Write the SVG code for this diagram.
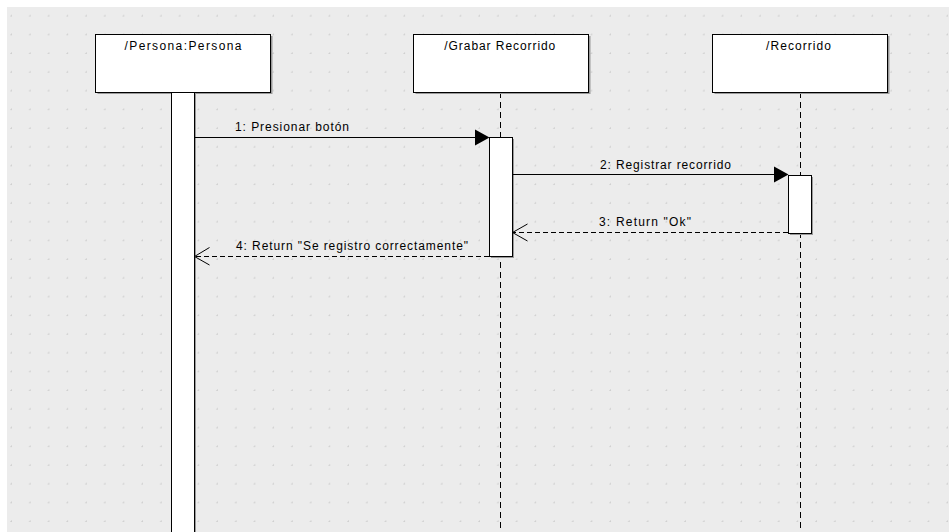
<svg xmlns="http://www.w3.org/2000/svg" width="949" height="532" viewBox="0 0 949 532">
  <style>
    .lbl { font-family: "Liberation Sans", Arial, sans-serif; font-size: 12px; fill: #000; }
    .box { fill: #fff; stroke: #000; stroke-width: 1; }
    .shadow { fill: #9a9a9a; }
    .act { fill: #fff; stroke: #000; stroke-width: 1; }
    .life { stroke: #000; stroke-width: 1; stroke-dasharray: 6 4; fill: none; }
    .msg { stroke: #000; stroke-width: 1; fill: none; }
    .ret { stroke: #000; stroke-width: 1; stroke-dasharray: 5 3; fill: none; }
  </style>
  <defs>
    <pattern id="grid" x="11" y="15.6" width="18.72" height="18.72" patternUnits="userSpaceOnUse">
      <rect x="-0.6" y="-0.6" width="1.5" height="1.5" fill="#c9c9c9"/>
      <rect x="18.12" y="-0.6" width="1.5" height="1.5" fill="#c9c9c9"/>
      <rect x="-0.6" y="18.12" width="1.5" height="1.5" fill="#c9c9c9"/>
    </pattern>
  </defs>

  <!-- canvas -->
  <rect x="0" y="0" width="949" height="532" fill="#fff"/>
  <rect x="7" y="7" width="942" height="525" fill="#ececec"/>
  <rect x="7" y="7" width="942" height="525" fill="url(#grid)"/>

  <!-- lifelines -->
  <g id="lifelines">
    <line class="life" x1="500.5" y1="92" x2="500.5" y2="532"/>
    <line class="life" x1="800.5" y1="92" x2="800.5" y2="532"/>
  </g>

  <!-- participant: Persona -->
  <g id="persona">
    <rect class="shadow" x="97.5" y="36" width="175" height="58"/>
    <rect class="box" x="95.5" y="34.5" width="175" height="58"/>
    <text class="lbl" x="124.5" y="49.5" textLength="117" lengthAdjust="spacing">/Persona:Persona</text>
    <rect class="shadow" x="173" y="94" width="23" height="440"/>
    <rect class="act" x="171.5" y="92.5" width="23" height="445"/>
  </g>

  <!-- participant: Grabar Recorrido -->
  <g id="grabar">
    <rect class="shadow" x="415.5" y="36" width="175" height="58"/>
    <rect class="box" x="413.5" y="34.5" width="175" height="58"/>
    <text class="lbl" x="444.3" y="49.5" textLength="111" lengthAdjust="spacing">/Grabar Recorrido</text>
    <rect class="shadow" x="491" y="139" width="23" height="119"/>
    <rect class="act" x="489.5" y="137.5" width="23" height="119"/>
  </g>

  <!-- participant: Recorrido -->
  <g id="recorrido">
    <rect class="shadow" x="714.5" y="36" width="175" height="58"/>
    <rect class="box" x="712.5" y="34.5" width="175" height="58"/>
    <text class="lbl" x="766" y="49.5" textLength="65" lengthAdjust="spacing">/Recorrido</text>
    <rect class="shadow" x="790" y="177" width="23" height="58"/>
    <rect class="act" x="788.5" y="175.5" width="23" height="58"/>
  </g>

  <!-- messages -->
  <g id="connectors">
    <line class="msg" x1="194.5" y1="137.5" x2="476" y2="137.5"/>
    <polygon points="475,129.5 489.5,137.5 475,145.5" fill="#000"/>
    <text class="lbl" x="235" y="131" textLength="114" lengthAdjust="spacing">1: Presionar botón</text>

    <line class="msg" x1="512.5" y1="174.5" x2="775" y2="174.5"/>
    <polygon points="774,166.5 788.5,174.5 774,182.5" fill="#000"/>
    <text class="lbl" x="600" y="168.5" textLength="131" lengthAdjust="spacing">2: Registrar recorrido</text>

    <line class="ret" x1="788" y1="232.5" x2="513" y2="232.5"/>
    <polyline class="msg" points="527.5,224 512.5,232.5 527.5,241"/>
    <text class="lbl" x="599" y="226" textLength="92" lengthAdjust="spacing">3: Return "Ok"</text>

    <line class="ret" x1="489" y1="256.5" x2="195" y2="256.5"/>
    <polyline class="msg" points="209.5,247.5 194.5,256.5 209.5,265"/>
    <text class="lbl" x="236" y="250" textLength="232" lengthAdjust="spacing">4: Return "Se registro correctamente"</text>
  </g>
</svg>
